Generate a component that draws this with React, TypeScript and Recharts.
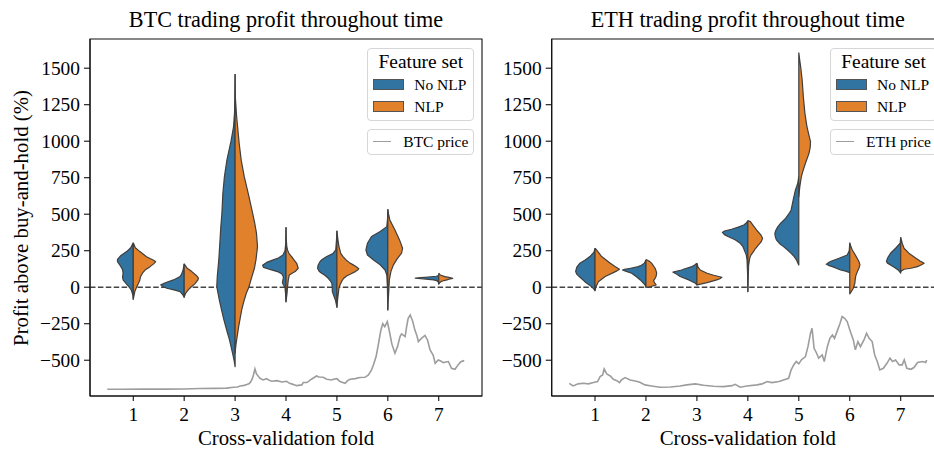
import React from 'react';
import { ComposedChart, XAxis, YAxis, Line, Scatter, ReferenceLine, ReferenceArea, Legend } from 'recharts';

const SERIF = "'Liberation Serif', 'Times New Roman', Times, serif";

// ---------- data ----------
const folds = [1, 2, 3, 4, 5, 6, 7];
const yTicks = [-500, -250, 0, 250, 500, 750, 1000, 1250, 1500];
const featureSets = ['No NLP', 'NLP'];

type Profile = [number, number][]; // [profit %, half width in fold units], top to bottom

const btcNoNlp: Profile[] = [
  [[305,0],[270,0.05],[244,0.13],[215,0.25],[190,0.31],[175,0.31],[150,0.26],[120,0.21],[96,0.2],[70,0.21],[50,0.2],[25,0.14],[0,0.08],[-18,0.04],[-50,0.01],[-82,0]],
  [[160,0],[120,0.02],[90,0.05],[73,0.08],[50,0.21],[31,0.37],[16,0.46],[5,0.42],[-7,0.34],[-20,0.18],[-30,0.08],[-50,0.03],[-68,0]],
  [[1461,0],[1300,0.005],[1200,0.01],[1100,0.03],[1000,0.08],[872,0.16],[757,0.21],[644,0.24],[500,0.26],[415,0.28],[300,0.3],[187,0.32],[73,0.35],[4,0.36],[-87,0.31],[-150,0.27],[-224,0.22],[-300,0.16],[-361,0.11],[-452,0.05],[-500,0.02],[-544,0]],
  [[410,0],[300,0.005],[250,0.02],[220,0.06],[200,0.15],[187,0.25],[170,0.38],[150,0.46],[136,0.44],[120,0.3],[105,0.15],[90,0.08],[70,0.05],[50,0.06],[30,0.07],[15,0.05],[0,0.02],[-40,0.01],[-99,0]],
  [[386,0],[324,0.008],[255,0.023],[230,0.08],[210,0.2],[190,0.29],[176,0.33],[150,0.37],[130,0.38],[110,0.35],[96,0.3],[80,0.23],[61,0.17],[40,0.12],[27,0.1],[-7,0.09],[-30,0.09],[-50,0.07],[-87,0.03],[-137,0]],
  [[534,0],[470,0.005],[415,0.02],[381,0.15],[347,0.32],[301,0.4],[255,0.43],[221,0.4],[187,0.28],[153,0.15],[118,0.055],[84,0.02],[0,0.008],[-155,0]],
  [[80,0],[75,0.05],[70,0.2],[66,0.35],[62,0.46],[58,0.35],[54,0.2],[50,0.1],[45,0.04],[38,0.01],[22,0]],
];
const btcNlp: Profile[] = [
  [[305,0],[270,0.04],[244,0.13],[209,0.26],[185,0.4],[175,0.44],[160,0.4],[141,0.33],[120,0.24],[96,0.18],[70,0.14],[50,0.13],[25,0.1],[4,0.07],[-30,0.03],[-82,0]],
  [[160,0],[145,0.03],[130,0.06],[107,0.15],[77,0.25],[62,0.28],[50,0.27],[23,0.21],[0,0.13],[-18,0.08],[-40,0.03],[-68,0]],
  [[1461,0],[1300,0.005],[1169,0.03],[986,0.08],[870,0.12],[757,0.18],[640,0.26],[529,0.33],[450,0.38],[370,0.42],[278,0.44],[187,0.41],[130,0.38],[73,0.33],[0,0.27],[-41,0.22],[-100,0.17],[-155,0.13],[-270,0.07],[-384,0.02],[-450,0]],
  [[410,0],[330,0.005],[280,0.015],[255,0.03],[230,0.06],[210,0.11],[185,0.16],[164,0.21],[130,0.24],[107,0.18],[95,0.12],[84,0.065],[50,0.045],[4,0.03],[-42,0.02],[-99,0]],
  [[386,0],[324,0.02],[280,0.04],[232,0.075],[210,0.12],[187,0.18],[170,0.24],[153,0.32],[140,0.38],[127,0.43],[118,0.41],[107,0.36],[92,0.28],[77,0.19],[60,0.13],[38,0.09],[15,0.06],[-7,0.04],[-64,0.02],[-137,0]],
  [[534,0],[500,0.015],[461,0.04],[392,0.14],[324,0.23],[267,0.29],[233,0.27],[198,0.19],[153,0.11],[107,0.06],[50,0.03],[-18,0.02],[-110,0.005],[-155,0]],
  [[96,0],[84,0.03],[73,0.12],[67,0.2],[61,0.275],[55,0.2],[50,0.16],[41,0.06],[30,0.015],[22,0]],
];
const ethNoNlp: Profile[] = [
  [[267,0],[240,0.02],[210,0.1],[185,0.2],[164,0.3],[136,0.36],[107,0.38],[90,0.36],[73,0.31],[38,0.2],[4,0.07],[-10,0.03],[-23,0]],
  [[187,0],[165,0.03],[150,0.09],[141,0.15],[130,0.3],[122,0.42],[118,0.46],[110,0.4],[96,0.28],[70,0.18],[50,0.11],[16,0.02],[0,0]],
  [[164,0],[150,0.05],[141,0.1],[125,0.25],[118,0.3],[103,0.47],[90,0.4],[73,0.33],[50,0.16],[27,0.03],[16,0]],
  [[456,0],[440,0.03],[426,0.08],[410,0.2],[397,0.32],[385,0.46],[375,0.5],[360,0.46],[346,0.38],[325,0.25],[301,0.15],[280,0.1],[255,0.07],[220,0.03],[187,0.016],[100,0.006],[-30,0]],
  [[760,0],[712,0.02],[666,0.066],[598,0.11],[529,0.15],[500,0.2],[472,0.26],[440,0.35],[415,0.41],[390,0.45],[369,0.47],[345,0.46],[324,0.44],[300,0.38],[278,0.3],[255,0.22],[232,0.15],[210,0.09],[187,0.046],[152,0]],
  [[300,0],[250,0.01],[221,0.05],[198,0.21],[176,0.38],[165,0.43],[157,0.46],[150,0.42],[141,0.34],[128,0.25],[118,0.18],[110,0.08],[100,0]],
  [[342,0],[320,0.005],[301,0.01],[267,0.1],[233,0.2],[198,0.26],[176,0.28],[165,0.26],[153,0.2],[135,0.12],[118,0.05],[96,0]],
];
const ethNlp: Profile[] = [
  [[267,0],[255,0.03],[210,0.13],[164,0.3],[140,0.4],[123,0.48],[110,0.42],[100,0.36],[73,0.2],[38,0.065],[4,0.02],[-23,0]],
  [[190,0],[180,0.06],[165,0.11],[130,0.18],[110,0.2],[96,0.21],[75,0.2],[61,0.18],[45,0.15],[30,0.17],[16,0.2],[5,0.1],[0,0]],
  [[164,0],[140,0.02],[118,0.065],[96,0.2],[82,0.33],[68,0.49],[58,0.45],[50,0.39],[32,0.2],[20,0.05],[16,0]],
  [[456,0],[449,0.05],[420,0.11],[392,0.17],[360,0.25],[335,0.29],[310,0.26],[290,0.21],[265,0.15],[244,0.11],[220,0.06],[198,0.036],[150,0.015],[50,0.006],[-30,0]],
  [[1607,0],[1550,0.02],[1500,0.04],[1420,0.066],[1300,0.09],[1191,0.12],[1100,0.16],[1040,0.2],[997,0.23],[960,0.225],[917,0.2],[849,0.13],[800,0.085],[757,0.05],[689,0.02],[620,0]],
  [[306,0],[280,0.02],[255,0.05],[221,0.11],[176,0.18],[153,0.2],[130,0.18],[107,0.15],[80,0.12],[61,0.11],[27,0.1],[-7,0.07],[-30,0.03],[-46,0]],
  [[342,0],[301,0.03],[267,0.065],[233,0.16],[198,0.3],[180,0.38],[164,0.46],[152,0.4],[141,0.33],[130,0.2],[123,0.065],[107,0]],
];

// price curves, rescaled into the profit axis: [fold position, value]
const btcPrice: [number, number][] = [
  [0.49,-699],[0.8,-699],[1.2,-698],[1.66,-698],[2.0,-697],[2.31,-694],[2.6,-693],[2.83,-691],[2.97,-685],[3.05,-683],[3.1,-676],[3.18,-672],[3.23,-667],[3.28,-660],[3.31,-646],[3.34,-625],[3.36,-601],[3.39,-560],[3.42,-594],[3.46,-612],[3.49,-624],[3.55,-635],[3.62,-626],[3.67,-638],[3.72,-644],[3.82,-640],[3.92,-649],[4.01,-644],[4.08,-660],[4.11,-662],[4.21,-674],[4.31,-669],[4.34,-653],[4.41,-653],[4.5,-630],[4.6,-608],[4.65,-615],[4.73,-617],[4.8,-630],[4.9,-635],[4.93,-630],[5.0,-626],[5.06,-646],[5.16,-658],[5.21,-640],[5.26,-630],[5.36,-626],[5.45,-618],[5.55,-617],[5.62,-601],[5.68,-566],[5.72,-530],[5.77,-475],[5.81,-400],[5.86,-300],[5.9,-250],[5.94,-270],[5.99,-235],[6.03,-300],[6.08,-390],[6.14,-452],[6.19,-407],[6.24,-338],[6.27,-320],[6.31,-330],[6.34,-338],[6.37,-270],[6.4,-213],[6.44,-190],[6.49,-235],[6.53,-292],[6.57,-330],[6.6,-372],[6.66,-350],[6.73,-330],[6.78,-361],[6.83,-430],[6.89,-464],[6.93,-521],[6.99,-498],[7.04,-505],[7.09,-516],[7.14,-512],[7.19,-509],[7.25,-555],[7.32,-562],[7.38,-532],[7.43,-512],[7.48,-503],[7.5,-508],
];
const ethPrice: [number, number][] = [
  [0.495,-658],[0.57,-676],[0.67,-662],[0.77,-658],[0.87,-662],[0.97,-653],[1.05,-646],[1.1,-612],[1.15,-601],[1.18,-560],[1.23,-594],[1.3,-608],[1.36,-630],[1.43,-640],[1.48,-653],[1.52,-635],[1.59,-619],[1.69,-635],[1.79,-642],[1.88,-651],[1.98,-669],[2.11,-676],[2.28,-685],[2.48,-683],[2.67,-676],[2.8,-669],[2.97,-662],[3.13,-671],[3.33,-678],[3.52,-681],[3.69,-674],[3.75,-665],[3.85,-685],[3.98,-676],[4.18,-669],[4.28,-662],[4.38,-646],[4.47,-653],[4.61,-646],[4.7,-635],[4.8,-624],[4.85,-566],[4.9,-532],[4.95,-509],[5.0,-525],[5.05,-498],[5.13,-475],[5.18,-407],[5.23,-315],[5.26,-281],[5.3,-418],[5.35,-452],[5.39,-486],[5.46,-464],[5.5,-509],[5.56,-407],[5.61,-350],[5.66,-327],[5.7,-350],[5.75,-304],[5.81,-247],[5.85,-201],[5.9,-213],[5.95,-235],[6.0,-292],[6.07,-361],[6.11,-429],[6.16,-372],[6.21,-407],[6.28,-361],[6.33,-315],[6.38,-350],[6.44,-372],[6.49,-464],[6.54,-509],[6.59,-566],[6.66,-555],[6.73,-521],[6.79,-486],[6.84,-509],[6.9,-498],[6.97,-532],[7.03,-532],[7.07,-498],[7.12,-555],[7.2,-562],[7.26,-550],[7.33,-516],[7.43,-509],[7.49,-516],[7.51,-498],
];

// ---------- styling ----------
const featureColors = ['#3274a1', '#e1812c'];
const EDGE = '#3f3f3f';
const PRICE_COLOR = '#9d9d9d';
const X_DOMAIN: [number, number] = [0.15, 7.85];
const Y_DOMAIN: [number, number] = [-745, 1700];
const TICK_FONT = 19.4;

function halfViolin(center: number, profile: Profile, side: number) {
  const pts = profile.map(([v, w]) => ({ x: center + side * w, y: v }));
  pts.push({ x: center, y: profile[0][0] });
  return pts;
}

const renderNothing = () => <g />;
const fmtY = (v: number) => (v < 0 ? '\u2212' + Math.abs(v) : String(v));

const XTick = (props: any) => (
  <text x={props.x} y={props.y} dy="0.71em" textAnchor="middle" fontSize={TICK_FONT} fontFamily={SERIF} fill="#000">
    {String(props.payload.value)}
  </text>
);
const YTick = (props: any) => (
  <text x={props.x} y={props.y} dy="0.34em" textAnchor="end" fontSize={TICK_FONT} fontFamily={SERIF} fill="#000">
    {fmtY(props.payload.value)}
  </text>
);

function LegendBox({ priceLabel }: { priceLabel: string }) {
  return (
    <div style={{ position: 'relative', width: 108, height: 110, fontFamily: SERIF, color: '#000' }}>
      <div style={{ position: 'absolute', left: 0, top: 0, width: 107, height: 73, border: '1px solid #d6d6d6', borderRadius: 4, background: 'rgba(255,255,255,0.85)', boxSizing: 'border-box' }}>
        <div style={{ position: 'absolute', left: 0, top: 3, width: '100%', textAlign: 'center', fontSize: 19.4, lineHeight: '20px', whiteSpace: 'nowrap' }}>Feature set</div>
        {featureSets.map((name, i) => (
          <React.Fragment key={name}>
            <div style={{ position: 'absolute', left: 5, top: 30 + i * 22, width: 31, height: 11, background: featureColors[i], border: '0.8px solid #555', boxSizing: 'border-box' }} />
            <div style={{ position: 'absolute', left: 46, top: 27 + i * 22, fontSize: 15.5, lineHeight: '18px', whiteSpace: 'nowrap' }}>{name}</div>
          </React.Fragment>
        ))}
      </div>
      <div style={{ position: 'absolute', left: 0, top: 81.5, width: 107, height: 25.5, border: '1px solid #d6d6d6', borderRadius: 4, background: 'rgba(255,255,255,0.85)', boxSizing: 'border-box' }}>
        <div style={{ position: 'absolute', left: 5, top: 11, width: 18, height: 0, borderTop: `1.5px solid ${PRICE_COLOR}` }} />
        <div style={{ position: 'absolute', left: 35, top: 2.5, fontSize: 15.5, lineHeight: '18px', whiteSpace: 'nowrap' }}>{priceLabel}</div>
      </div>
    </div>
  );
}

type PanelProps = {
  left: number; width: number; marginLeft: number; marginRight: number; yAxisWidth: number;
  title: string; noNlp: Profile[]; nlp: Profile[]; price: [number, number][]; priceLabel: string;
  yLabel?: string; legendLeft: number;
};

function Panel(p: PanelProps) {
  const plotLeft = p.marginLeft + p.yAxisWidth;
  const plotRight = p.width - p.marginRight;
  const cx = (plotLeft + plotRight) / 2;
  return (
    <div style={{ position: 'absolute', left: p.left, top: 0, fontFamily: SERIF }}>
      <ComposedChart width={p.width} height={450} margin={{ top: 39, right: p.marginRight, bottom: 24, left: p.marginLeft }}>
        <XAxis type="number" dataKey="x" domain={X_DOMAIN} ticks={folds} allowDataOverflow height={30}
          tickSize={5} tickMargin={6} tick={XTick} stroke="#111" strokeWidth={1.1} interval={0} />
        <YAxis type="number" dataKey="y" domain={Y_DOMAIN} ticks={yTicks} allowDataOverflow width={p.yAxisWidth}
          tickSize={6} tickMargin={4} tick={YTick} stroke="#111" strokeWidth={1.1} interval={0} />
        <ReferenceArea x1={X_DOMAIN[0]} x2={X_DOMAIN[1]} y1={Y_DOMAIN[0]} y2={Y_DOMAIN[1]} fill="none" stroke="#111" strokeWidth={1.1} ifOverflow="visible" />
        <ReferenceLine y={0} stroke="#444" strokeDasharray="5.5 2.4" strokeWidth={1.4} />
        <Line data={p.price.map(([x, y]) => ({ x, y }))} dataKey="y" type="linear" dot={false} stroke={PRICE_COLOR}
          strokeWidth={1.6} isAnimationActive={false} legendType="none" />
        {folds.map((f, i) => (
          <Scatter key={'a' + f} data={halfViolin(f, p.noNlp[i], -1)} dataKey="y" shape={renderNothing}
            line={{ fill: featureColors[0], stroke: EDGE, strokeWidth: 1.2, strokeLinejoin: 'round' }}
            isAnimationActive={false} legendType="none" />
        ))}
        {folds.map((f, i) => (
          <Scatter key={'b' + f} data={halfViolin(f, p.nlp[i], 1)} dataKey="y" shape={renderNothing}
            line={{ fill: featureColors[1], stroke: EDGE, strokeWidth: 1.2, strokeLinejoin: 'round' }}
            isAnimationActive={false} legendType="none" />
        ))}
        <Legend layout="vertical" align="center" verticalAlign="middle"
          wrapperStyle={{ left: p.legendLeft, top: 47.5, width: 108, height: 110 }}
          content={() => <LegendBox priceLabel={p.priceLabel} />} />
        <text x={cx} y={27} textAnchor="middle" fontSize={22.2} fontFamily={SERIF} fill="#000">{p.title}</text>
        <text x={cx} y={445} textAnchor="middle" fontSize={20.8} fontFamily={SERIF} fill="#000">Cross-validation fold</text>
        {p.yLabel ? (
          <text x={28} y={218} transform="rotate(-90 28 218)" textAnchor="middle" fontSize={20.8} fontFamily={SERIF} fill="#000">{p.yLabel}</text>
        ) : null}
      </ComposedChart>
    </div>
  );
}

export default function App() {
  return (
    <div style={{ position: 'absolute', left: 0, top: 0, width: 934, height: 450, overflow: 'hidden', background: '#fff', fontFamily: SERIF }}>
      <Panel left={0} width={490} marginLeft={30} marginRight={8} yAxisWidth={60}
        title="BTC trading profit throughout time" noNlp={btcNoNlp} nlp={btcNlp} price={btcPrice}
        priceLabel="BTC price" yLabel="Profit above buy-and-hold (%)" legendLeft={367.3} />
      <Panel left={490} width={460} marginLeft={11.7} marginRight={6} yAxisWidth={50}
        title="ETH trading profit throughout time" noNlp={ethNoNlp} nlp={ethNlp} price={ethPrice}
        priceLabel="ETH price" legendLeft={340} />
    </div>
  );
}
